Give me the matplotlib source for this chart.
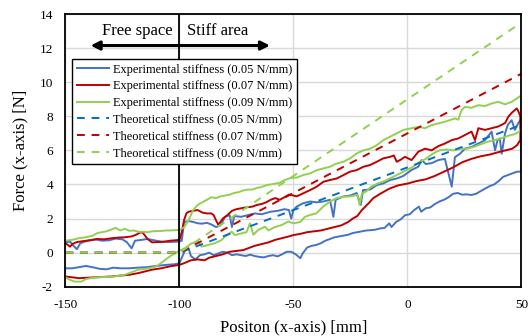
import matplotlib
matplotlib.use('Agg')
import matplotlib.pyplot as plt

plt.rcParams['font.family'] = ['Liberation Serif', 'DejaVu Serif']
plt.rcParams['axes.unicode_minus'] = False

# loading (upper) and unloading (lower) branches
bu_x = [-150, -148, -146.5, -145, -143.5, -140, -137, -134, -131, -128, -125, -123, -121, -119.5, -117, -114, -111,
        -108, -105, -102, -100, -99, -98, -96, -94, -92, -90, -88, -86, -84, -82, -80, -78, -77, -76, -73, -70, -67,
        -64, -60, -57, -54, -52, -51, -50, -48.6, -45.7, -42.7, -39.8, -36.9, -34, -32.5, -31.5, -28, -25, -22.3,
        -20.5, -19.5, -16.4, -13.5, -10.6, -7.6, -4.7, -1.8, 1.8, 4.75, 6.2, 8, 10.6, 13.5, 16.4, 19.4, 20.8, 23,
        25.2, 28.1, 31.1, 34, 36.9, 38.4, 39.5, 40.5, 41.3, 42.8, 44, 45.7, 47.1, 48.6, 50]
bu_y = [0.6, 0.65, 0.4, 0.2, 0.55, 0.72, 0.78, 0.7, 0.72, 0.82, 0.78, 0.6, 0.25, 0.7, 0.74, 0.8, 0.72,
        0.65, 0.62, 0.64, 0.65, 0.7, 1.8, 1.85, 1.8, 1.72, 1.7, 1.75, 1.65, 1.5, 1.6, 2.1, 2.2, 1.5, 2.15, 2.1, 2.2, 2.3,
        2.25, 2.4, 2.45, 2.55, 2.5, 2.0, 2.5, 2.7, 2.9, 3.0, 2.95, 3.0, 3.1, 2.1, 3.1, 3.3, 3.35, 3.5,
        2.8, 3.67, 3.7, 3.96, 4.06, 4.26, 4.35, 4.5, 4.85, 5.04, 5.43, 5.2, 5.25, 5.43, 5.5, 3.87, 5.6, 5.8,
        6.1, 6.2, 6.4, 6.6, 7.1, 6.0, 6.6, 6.7, 5.8, 7.0, 7.5, 7.77, 7.2, 7.6, 7.87]
bl_x = [-150, -147, -144, -141, -138, -135, -132, -129, -126, -122, -118, -114, -110, -106, -102, -100, -99, -98, -97,
        -96, -95, -93, -91, -89, -87, -85, -83, -81, -79, -77, -75, -73, -71, -69, -67, -65, -63, -61, -59, -57, -55,
        -53, -51, -49, -47, -46, -44, -42, -40, -38, -36, -34, -32, -30, -28, -26, -24, -22, -20, -18, -16, -14, -12,
        -10, -8, -7, -5, -3, -1, 1, 3, 5, 6, 8, 10, 12, 14, 16, 18, 20, 22, 24, 26, 28, 30, 32, 34, 36, 38, 40, 42, 44,
        46, 48, 50]
bl_y = [-0.92, -0.92, -0.85, -0.78, -0.86, -0.95, -0.98, -0.88, -0.92, -0.92, -0.88, -0.85, -0.78, -0.72, -0.68, -0.62,
        -0.3, 0.0, 0.3, 0.25, -0.2, -0.4, -0.15, -0.1, 0.0, -0.15, -0.05, 0.05, 0.0, -0.15, -0.1, -0.15, -0.2, -0.12,
        -0.2, -0.25, -0.28, -0.2, -0.15, -0.22, -0.1, 0.05, 0.05, -0.1, -0.33, -0.05, 0.3, 0.4, 0.45, 0.55, 0.7, 0.8,
        0.9, 0.95, 1.0, 1.05, 1.15, 1.2, 1.25, 1.3, 1.32, 1.35, 1.42, 1.45, 1.72, 1.5, 1.8, 1.95, 2.2, 2.25, 2.5, 2.7,
        2.4, 2.6, 2.65, 2.85, 3.0, 3.1, 3.25, 3.45, 3.5, 3.4, 3.42, 3.38, 3.45, 3.6, 3.75, 3.9, 4.0, 4.2, 4.45, 4.55,
        4.65, 4.75, 4.75]

ru_x = [-150, -149, -148, -147, -145, -142, -139, -136, -133, -130, -127, -124, -121, -119, -117, -116, -114, -112,
        -110, -108, -106, -104, -102, -100, -99, -98, -97, -96, -94, -92, -90, -88, -86, -85, -84, -83, -82, -81, -79,
        -77, -75, -73, -71, -68, -66, -64, -62, -60, -58, -56, -54, -52, -50, -48.6, -45.7, -42.7, -39.8, -36.9, -34,
        -31, -28.1, -25.2, -22.3, -19.3, -16.4, -13.5, -10.6, -7.6, -6, -4.7, -3, -1.1, 1.8, 4.75, 7.7, 10.6, 13.5,
        16.4, 19.4, 22.3, 25.2, 28.1, 29.6, 31.1, 34, 36.9, 39.8, 42.8, 44.2, 45.7, 47.1, 47.9, 48.6, 49.5]
ru_y = [0.55, 0.45, 0.35, 0.5, 0.62, 0.68, 0.72, 0.8, 0.78, 0.84, 0.88, 0.9, 0.95, 1.05, 1.2, 1.15, 0.8, 0.6,
        0.62, 0.62, 0.66, 0.7, 0.72, 0.75, 1.2, 1.9, 2.3, 2.4, 2.45, 2.5, 2.35, 2.3, 2.3, 2.2, 1.9, 1.65, 1.8, 2.0, 2.2,
        2.45, 2.55, 2.6, 2.65, 2.7, 2.8, 2.85, 2.95, 3.1, 3.2, 3.1, 3.25, 3.4, 3.35, 3.3, 3.48, 3.67, 3.87, 4.16, 4.26,
        4.35, 4.55, 4.75, 4.84, 5.04, 5.14, 5.33, 5.53, 5.62, 5.7, 5.33, 5.45, 5.62, 5.43, 5.92, 6.1, 6.0, 6.25,
        6.4, 6.6, 6.7, 6.9, 7.1, 6.6, 7.3, 7.2, 7.3, 7.4, 7.6, 7.97, 8.2, 8.36, 8.46, 8.3, 8.0]
rl_x = [-150, -147, -144, -140, -137, -133, -130, -126, -122, -118, -115, -112, -108, -104, -100, -98, -95, -92, -89,
        -87, -84, -81, -78, -75, -72, -70, -67, -64, -61, -58, -55, -52, -50, -47, -44, -41, -38, -35, -32, -29, -26,
        -24, -22, -20, -17, -15, -12, -8, -4, 0, 4, 8, 12, 16, 20, 24, 28, 32, 36, 40, 43, 46, 48, 49.5]
rl_y = [-1.4, -1.45, -1.5, -1.47, -1.45, -1.42, -1.4, -1.35, -1.3, -1.2, -1.1, -1.0, -0.92, -0.8, -0.72, -0.62, -0.45,
        -0.4, -0.45, -0.3, -0.2, -0.1, 0.05, 0.1, 0.15, 0.25, 0.4, 0.5, 0.6, 0.75, 0.85, 0.95, 1.03, 1.1, 1.2, 1.25,
        1.3, 1.4, 1.5, 1.6, 1.8, 2.0, 2.15, 2.5, 2.9, 3.2, 3.45, 3.75, 3.95, 4.05, 4.2, 4.3, 4.5, 4.75, 5.0, 5.3, 5.5,
        5.65, 5.75, 5.9, 6.0, 6.1, 6.3, 6.6]

gu_x = [-150, -147, -144, -141, -138, -136, -134, -132, -130, -128, -126, -124, -122, -120, -118, -116, -114, -112,
        -110, -108, -106, -104, -102, -100, -98, -96, -94, -92, -90, -88, -86, -84, -82, -80, -78, -76, -74, -72, -70,
        -68, -66, -64, -62, -60, -58, -56, -54, -52, -50, -48.6, -45.7, -42.7, -39.8, -36.9, -34, -31, -28.1, -25.2,
        -22.3, -19.3, -16.4, -13.5, -10.6, -7.6, -4.7, -1.8, 1.8, 4.75, 7.7, 10.6, 13.5, 16.4, 20.8, 22.3, 23.7, 25.2,
        28.1, 31.1, 34, 36.9, 39.8, 42.8, 45.7, 48.6, 50]
gu_y = [0.7, 0.75, 0.85, 0.9, 1.0, 1.15, 1.2, 1.25, 1.35, 1.45, 1.3, 1.4, 1.28, 1.3, 1.22, 1.22, 1.2, 1.25,
        1.27, 1.27, 1.3, 1.3, 1.32, 1.33, 1.48, 1.9, 2.5, 2.8, 2.95, 3.1, 3.25, 3.2, 3.3, 3.35, 3.4, 3.5, 3.55, 3.65, 3.7,
        3.7, 3.8, 3.85, 3.95, 4.0, 4.05, 4.1, 4.25, 4.35, 4.4, 4.4, 4.55, 4.65, 4.84, 4.94, 5.04, 5.23, 5.33, 5.53,
        5.82, 6.0, 6.1, 6.3, 6.6, 6.8, 7.0, 7.2, 7.3, 7.38, 7.3, 7.48, 7.58, 7.68, 7.87, 7.8, 8.36, 8.55,
        8.5, 8.65, 8.6, 8.75, 8.85, 8.7, 8.85, 9.1, 9.24]
gl_x = [-150, -148, -146, -143, -141, -139, -136, -132, -129, -126, -124, -121, -118, -115, -112, -110, -108, -106,
        -104, -102, -100, -97.6, -94.7, -91.8, -90.3, -87.4, -84.5, -81.5, -80.1, -77.1, -75.7, -72.8, -70.6, -69.1,
        -67.6, -65.5, -62.5, -61, -58.1, -55.2, -52.3, -50, -47, -45, -43, -40, -37, -34, -31, -28, -25, -22, -21, -20,
        -18, -16, -13, -10, -7, -4, -1, 2, 5, 8, 11, 14, 17, 20, 23, 26, 29, 32, 35, 38, 41, 44, 47, 49, 50]
gl_y = [-1.45, -1.6, -1.7, -1.7, -1.55, -1.5, -1.45, -1.42, -1.4, -1.35, -1.3, -1.15, -1.0, -0.95, -0.88, -0.8, -0.6,
        -0.4, -0.2, -0.05, 0.12, 0.25, 0.55, 0.64, 0.35, 0.45, 0.55, 0.74, 0.94, 1.23, 1.03, 1.13, 1.2, 1.72, 1.05,
        1.33, 1.52, 1.3, 1.5, 1.62, 1.82, 1.72, 1.8, 2.1, 2.2, 2.3, 2.7, 3.0, 3.2, 3.28, 3.3, 3.38, 2.8, 3.45, 3.6,
        3.87, 4.06, 4.2, 4.4, 4.6, 4.8, 5.0, 5.3, 5.5, 5.8, 6.0, 6.05, 6.0, 6.1, 6.1, 6.2, 6.35, 6.5, 6.6, 6.7, 6.85,
        6.95, 7.1, 7.3]

theo_x = [-150, -100, 50]
theo_05 = [0, 0, 7.5]
theo_07 = [0, 0, 10.5]
theo_09 = [0, 0, 13.5]

stiffness = ['0.05', '0.07', '0.09']
exp_colors = ['#4472C4', '#C00000', '#92D050']
theo_colors = ['#0070C0', '#C00000', '#92D050']

fig = plt.figure(figsize=(5.29, 3.36), dpi=100)
ax = fig.add_axes([0.1238, 0.1467, 0.862, 0.8116])

loops = [(bu_x, bu_y, bl_x, bl_y), (ru_x, ru_y, rl_x, rl_y), (gu_x, gu_y, gl_x, gl_y)]
for (ux, uy, lx, ly), s, c in zip(loops, stiffness, exp_colors):
    ax.plot(ux + lx[::-1], uy + ly[::-1], color=c, lw=1.4,
            label='Experimental stiffness ({} N/mm)'.format(s))
for ty, s, c in zip([theo_05, theo_07, theo_09], stiffness, theo_colors):
    ax.plot(theo_x, ty, color=c, lw=1.4, ls=(0, (4, 3.5)),
            label='Theoretical stiffness ({} N/mm)'.format(s))

ax.axvline(-100, color='black', lw=1.3, zorder=5)

ax.set_xlim(-150, 50)
ax.set_ylim(-2, 14)
ax.set_xticks([-150, -100, -50, 0, 50])
ax.set_yticks(range(-2, 15, 2))
ax.grid(True, color='#D9D9D9', lw=1)
ax.set_axisbelow(True)
ax.tick_params(length=0, labelsize=9.5)
ax.tick_params(axis='x', pad=9)
ax.tick_params(axis='y', pad=9)
for sp in ax.spines.values():
    sp.set_linewidth(1.3)
    sp.set_color('black')

ax.set_xlabel('Positon (x-axis) [mm]', fontsize=12, labelpad=6)
ax.set_ylabel('Force (x-axis) [N]', fontsize=12, labelpad=8)

ax.annotate('', xy=(-139, 12.15), xytext=(-60.3, 12.15),
            arrowprops=dict(arrowstyle='<|-|>', lw=2.2, color='black',
                            mutation_scale=13, shrinkA=0, shrinkB=0))
ax.text(-118.4, 13.0, 'Free space', fontsize=12, ha='center', va='center')
ax.text(-83.1, 13.0, 'Stiff area', fontsize=12, ha='center', va='center')

leg = ax.legend(loc='upper left', bbox_to_anchor=(0.0143, 0.836), borderaxespad=0,
                fontsize=8.9, fancybox=False, framealpha=1, edgecolor='black',
                handlelength=2.6, handletextpad=0.3, labelspacing=0.38, borderpad=0.4)
leg.get_frame().set_linewidth(1.0)
leg.set_zorder(6)

fig.savefig('out.png', dpi=100)
